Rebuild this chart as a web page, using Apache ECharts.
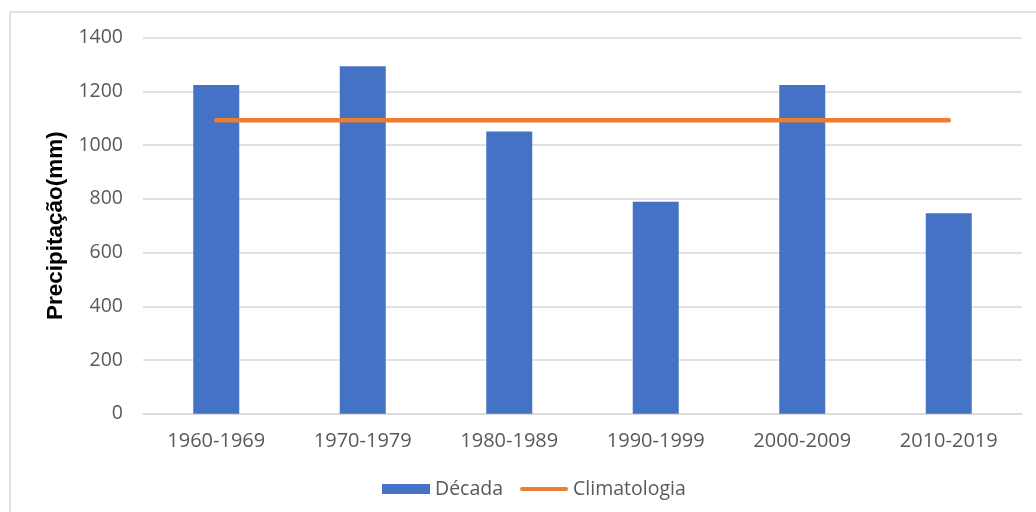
<!DOCTYPE html>
<html>
<head>
<meta charset="utf-8">
<script src="https://cdn.jsdelivr.net/npm/echarts@6/dist/echarts.min.js"></script>
<style>
html, body { margin: 0; padding: 0; background: #fff; }
#chart { width: 1036px; height: 512px; }
</style>
</head>
<body>
<div id="chart"></div>
<script>
// dados
var decadas = ['1960-1969', '1970-1979', '1980-1989', '1990-1999', '2000-2009', '2010-2019'];
var precipDecada = [1224, 1294, 1051, 789, 1224, 746];
var climatologia = [1093, 1093, 1093, 1093, 1093, 1093];
var yTicks = [0, 200, 400, 600, 800, 1000, 1200, 1400];

var chart = echarts.init(document.getElementById('chart'));
var option = {
    backgroundColor: '#fff',
    animation: false,
    textStyle: { fontFamily: 'Open Sans' },
    graphic: [{
        type: 'rect',
        shape: { x: 10, y: 12, width: 1100, height: 600 },
        style: { fill: 'none', stroke: '#d9d9d9', lineWidth: 1.5 },
        silent: true
    }],
    grid: {
        left: 143,
        right: 14,
        top: 37.7,
        bottom: 98.3
    },
    legend: {
        left: 377,
        top: 474,
        itemWidth: 48,
        itemHeight: 10,
        itemGap: 17,
        textStyle: { color: '#595959', fontSize: 19.5, fontFamily: 'Open Sans' },
        data: [
            { name: 'Década', icon: 'rect' },
            // linha laranja sem marcador
            { name: 'Climatologia', icon: 'path://M0,0 M2,3 L46,3 A2,2 0 0 1 46,7 L2,7 A2,2 0 0 1 2,3 Z M48,10' }
        ]
    },
    xAxis: {
        type: 'category',
        data: decadas,
        axisTick: { show: false },
        axisLine: { lineStyle: { color: '#d9d9d9', width: 1.5 } },
        axisLabel: {
            color: '#595959',
            fontSize: 20,
            margin: 18,
            fontFamily: 'Open Sans'
        }
    },
    yAxis: {
        type: 'value',
        min: yTicks[0],
        max: yTicks[yTicks.length - 1],
        interval: 200,
        name: 'Precipitação(mm)',
        nameLocation: 'middle',
        nameGap: 73,
        nameTextStyle: {
            color: '#000',
            fontSize: 22.5,
            fontWeight: 'bold',
            fontFamily: 'Liberation Sans'
        },
        axisLine: { show: false },
        axisTick: { show: false },
        axisLabel: {
            color: '#595959',
            fontSize: 19.5,
            margin: 20,
            fontFamily: 'Open Sans',
            formatter: function (v) { return String(v); }
        },
        splitLine: { lineStyle: { color: '#d9d9d9', width: 1.5 } }
    },
    series: [
        {
            name: 'Década',
            type: 'bar',
            data: precipDecada,
            barWidth: 46,
            itemStyle: { color: '#4472c4' }
        },
        {
            name: 'Climatologia',
            type: 'line',
            data: climatologia,
            symbol: 'none',
            showSymbol: false,
            lineStyle: { color: '#ed7d31', width: 4.5, cap: 'round' },
            itemStyle: { color: '#ed7d31' }
        }
    ]
};
chart.setOption(option);
</script>
</body>
</html>
